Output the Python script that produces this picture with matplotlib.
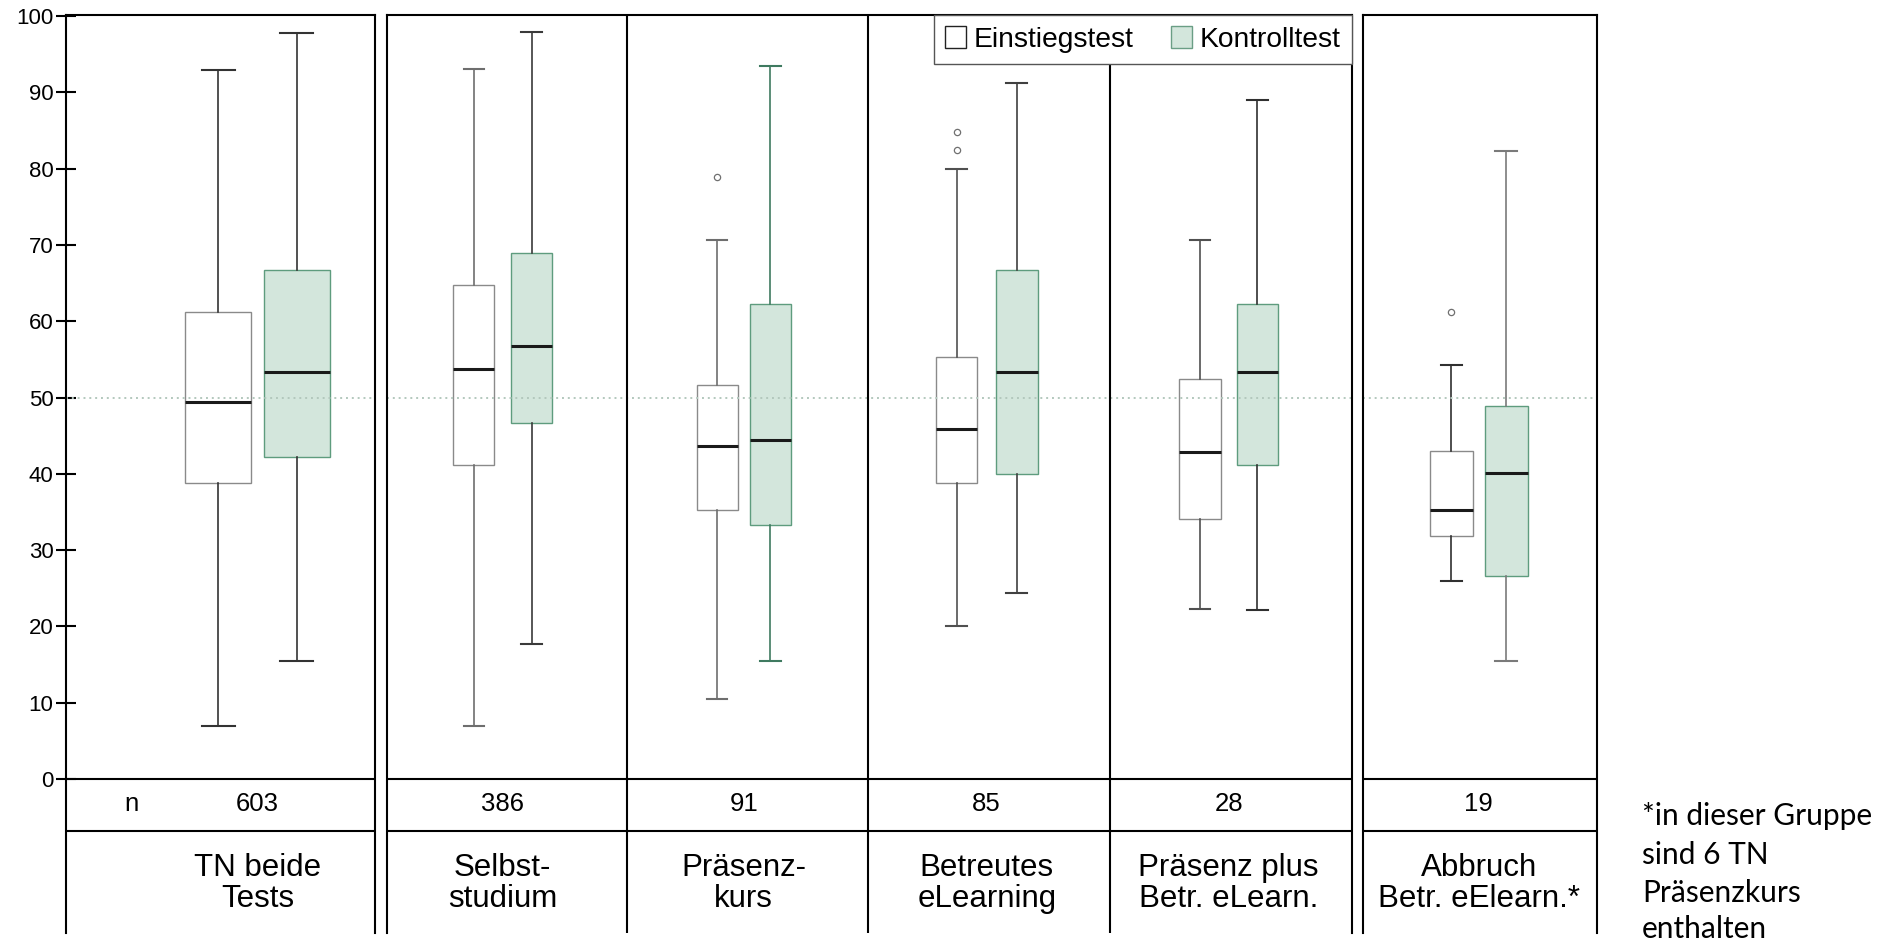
import matplotlib
matplotlib.use("Agg")
import matplotlib.pyplot as plt
from matplotlib.patches import Patch

# ---------------- data ----------------
groups = ["TN beide\nTests", "Selbst-\nstudium", "Präsenz-\nkurs",
          "Betreutes\neLearning", "Präsenz plus\nBetr. eLearn.", "Abbruch\nBetr. eElearn.*"]
n_values = [603, 386, 91, 85, 28, 19]

einstieg_whislo = [7.0, 7.0, 10.5, 20.0, 22.3, 25.9]
einstieg_q1 = [38.8, 41.2, 35.3, 38.8, 34.1, 31.8]
einstieg_med = [49.4, 53.8, 43.6, 45.9, 42.9, 35.3]
einstieg_q3 = [61.2, 64.7, 51.7, 55.3, 52.4, 43.0]
einstieg_whishi = [92.9, 93.0, 70.6, 80.0, 70.6, 54.2]
einstieg_fliers = [[], [], [78.9], [82.4, 84.8], [], [61.2]]

kontroll_whislo = [15.5, 17.7, 15.5, 24.4, 22.1, 15.5]
kontroll_q1 = [42.2, 46.6, 33.3, 40.0, 41.1, 26.6]
kontroll_med = [53.3, 56.7, 44.4, 53.3, 53.3, 40.1]
kontroll_q3 = [66.7, 68.9, 62.3, 66.7, 62.3, 48.9]
kontroll_whishi = [97.8, 97.9, 93.4, 91.2, 89.0, 82.3]
kontroll_fliers = [[], [], [], [], [], []]

series_labels = ["Einstiegstest", "Kontrolltest"]
yticks = list(range(0, 101, 10))
reference_line = 50
footnote_lines = ["*in dieser Gruppe", "sind 6 TN", "Präsenzkurs", "enthalten"]

# ---------------- layout (pixels) ----------------
plt.rcParams['font.family'] = ['Liberation Sans', 'DejaVu Sans']
W, H = 1890, 942
fig = plt.figure(figsize=(W / 100, H / 100), dpi=100)
Y_TOP, Y_BOT = 15, 933
V_TOP, V_BOT = 100.13, -20.18
N_LINE = -6.78
N_TEXT_Y = -3.3
CAT_TEXT_Y = -13.7

axes_px = [(66.1, 375.0, [0]), (387.0, 1351.6, [1, 2, 3, 4]), (1363.2, 1597.3, [5])]
separators = [627.2, 868.3, 1109.8]
box_pos = [(218.3, 296.9), (473.9, 531.5), (717.2, 770.3),
           (956.7, 1016.8), (1200.0, 1257.4), (1451.3, 1506.2)]
box_w = [66, 41, 41, 41.5, 41.5, 43]
n_label_x = 131.7
foot_x = 1642
foot_y = [816, 855, 893, 929]

GREEN_FILL = '#d3e6dc'
GREEN_EDGE = '#5e9c7e'
e_whisk_col = ['#333333', '#6e6e6e', '#6e6e6e', '#505050', '#505050', '#303030']
k_whisk_col = ['#333333', '#3a3a3a', '#3f7a60', '#404040', '#303030', '#7a7a7a']

axes = []
for x0, x1, idxs in axes_px:
    ax = fig.add_axes([x0 / W, 1 - Y_BOT / H, (x1 - x0) / W, (Y_BOT - Y_TOP) / H])
    ax.set_xlim(x0, x1)
    ax.set_ylim(V_BOT, V_TOP)
    for s in ['left', 'right', 'top']:
        ax.spines[s].set_linewidth(1.5)
        ax.spines[s].set_color('black')
    ax.spines['bottom'].set_visible(False)
    ax.set_xticks([])
    ax.set_yticks([])
    ax.axhline(0, color='black', lw=1.5, zorder=3)
    ax.axhline(N_LINE, color='black', lw=1.5, zorder=3)
    ax.axhline(reference_line, color='#b3c8bd', lw=1.4, ls=(0, (1, 2)), zorder=2.5)
    for i in idxs:
        pe, pk = box_pos[i]
        st_e = dict(med=einstieg_med[i], q1=einstieg_q1[i], q3=einstieg_q3[i],
                    whislo=einstieg_whislo[i], whishi=einstieg_whishi[i],
                    fliers=einstieg_fliers[i])
        st_k = dict(med=kontroll_med[i], q1=kontroll_q1[i], q3=kontroll_q3[i],
                    whislo=kontroll_whislo[i], whishi=kontroll_whishi[i],
                    fliers=kontroll_fliers[i])
        ax.bxp([st_e], positions=[pe], widths=[box_w[i]], patch_artist=True,
               manage_ticks=False,
               boxprops=dict(facecolor='white', edgecolor='#8a8a8a', lw=1.0),
               medianprops=dict(color='#1a1a1a', lw=2.2),
               whiskerprops=dict(color=e_whisk_col[i], lw=1.2),
               capprops=dict(color=e_whisk_col[i], lw=1.5),
               flierprops=dict(marker='o', markersize=4.5, markerfacecolor='none',
                               markeredgecolor='#707070', markeredgewidth=0.9))
        ax.bxp([st_k], positions=[pk], widths=[box_w[i]], patch_artist=True,
               manage_ticks=False,
               boxprops=dict(facecolor=GREEN_FILL, edgecolor=GREEN_EDGE, lw=1.0),
               medianprops=dict(color='#1a1a1a', lw=2.2),
               whiskerprops=dict(color=k_whisk_col[i], lw=1.2),
               capprops=dict(color=k_whisk_col[i], lw=1.5))
        mid = (pe + pk) / 2
        ax.text(mid, N_TEXT_Y, str(n_values[i]), ha='center', va='center', fontsize=18.5)
        ax.text(mid, CAT_TEXT_Y, groups[i], ha='center', va='center', fontsize=22.5,
                linespacing=1.06)
    axes.append(ax)

axA, axB, axC = axes
for xs in separators:
    axB.axvline(xs, color='black', lw=1.5, zorder=3)

axA.set_yticks(yticks)
axA.set_yticklabels([str(t) for t in yticks], fontsize=16)
axA.tick_params(axis='y', direction='inout', length=14, width=1.5, pad=2)
axA.text(n_label_x, N_TEXT_Y, "n", ha='center', va='center', fontsize=18.5)

handles = [Patch(facecolor='white', edgecolor='#222222', lw=1.0, label=series_labels[0]),
           Patch(facecolor=GREEN_FILL, edgecolor='#6a9e85', lw=1.0, label=series_labels[1])]
leg = axB.legend(handles=handles, loc='upper right', bbox_to_anchor=(1.0, 1.0), ncol=2,
                 fontsize=20.3, frameon=True, fancybox=False, framealpha=1,
                 edgecolor='#555555', borderaxespad=0, borderpad=0.4,
                 handlelength=0.75, handleheight=0.8, handletextpad=0.25,
                 columnspacing=1.35)
leg.get_frame().set_linewidth(1.0)
leg.set_zorder(10)

for yy, line in zip(foot_y, footnote_lines):
    fig.text(foot_x / W, 1 - yy / H, line, ha='left', va='center',
             family=['Lato', 'DejaVu Sans'], fontsize=21.5)

fig.savefig('out.png', dpi=100)
